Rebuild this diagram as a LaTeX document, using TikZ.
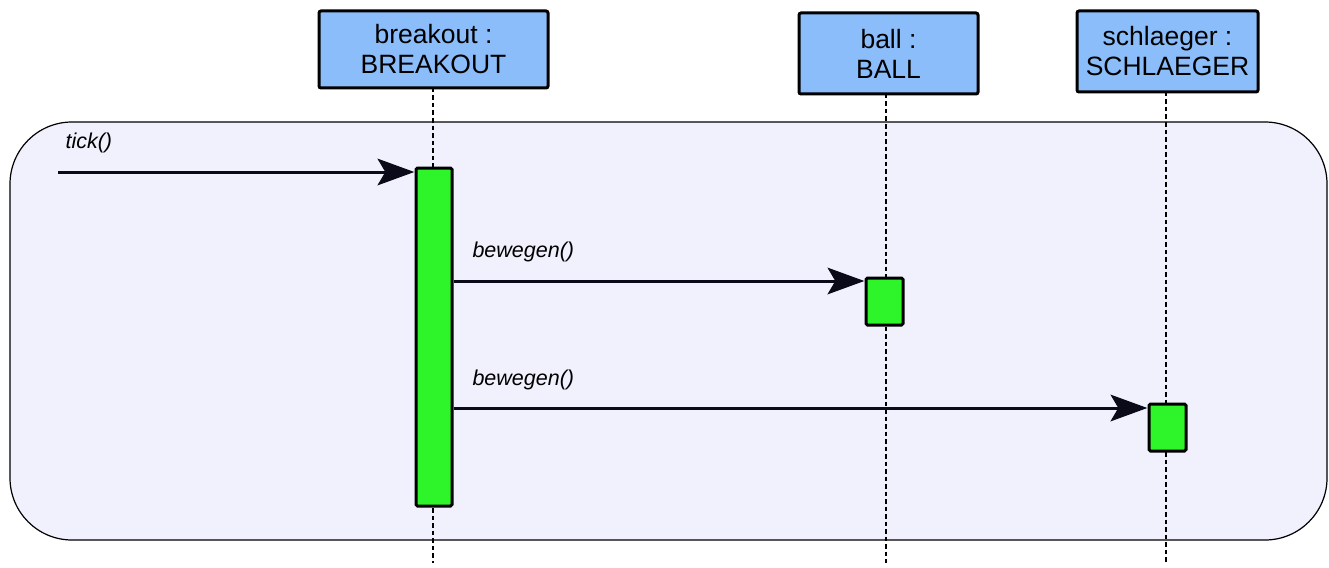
\documentclass[tikz,border=0pt]{standalone}
\usepackage{fontspec}
\setmainfont{Liberation Sans}
\usetikzlibrary{arrows.meta}
\definecolor{objblue}{HTML}{8ABDFA}
\definecolor{actgreen}{HTML}{2EF52A}
\definecolor{framebg}{HTML}{F1F1FE}
\definecolor{inkdark}{HTML}{0A0A18}
\begin{document}
\begin{tikzpicture}[x=1pt,y=-1pt,
  objbox/.style={draw=black,line width=3pt,fill=objblue,rounded corners=2pt,
    inner sep=0pt,align=center,font=\fontsize{26.5}{30}\selectfont},
  actbox/.style={draw=black,line width=3pt,fill=actgreen,rounded corners=1.5pt},
  lifeline/.style={line width=1.2pt,dash pattern=on 4.5pt off 3pt},
  msg/.style={draw=inkdark,line width=3pt,
    -{Stealth[length=37pt,width=27pt,inset=8pt,line width=0pt]}},
  msglabel/.style={font=\fontsize{21.5}{24}\selectfont\itshape,anchor=west}]
\useasboundingbox (0,0) rectangle (1329,567);
% combined fragment frame
\draw[line width=1.2pt,fill=framebg,rounded corners=62pt] (10,122) rectangle (1327,540);
% lifelines
\draw[lifeline] (433,88) -- (433,563);
\draw[lifeline] (886,94) -- (886,563);
\draw[lifeline] (1166,92) -- (1166,563);
% object heads
\node[objbox,minimum width=229pt,minimum height=77pt] (breakout) at (433.5,49.5) {breakout :\\BREAKOUT};
\node[objbox,minimum width=179pt,minimum height=81pt] (ball) at (888.5,53.5) {ball :\\BALL};
\node[objbox,minimum width=181pt,minimum height=81pt] (schlaeger) at (1167.5,51.5) {schlaeger :\\SCHLAEGER};
% activations
\draw[actbox] (416,168) rectangle (452,506);
\node[inner sep=0pt,minimum width=39pt,minimum height=338pt] (actA) at (434,337) {};
\draw[actbox] (866,278) rectangle (903,325);
\node[inner sep=0pt,minimum width=40pt,minimum height=47pt] (actB) at (884.5,301.5) {};
\draw[actbox] (1149,404) rectangle (1186,451);
\node[inner sep=0pt,minimum width=40pt,minimum height=47pt] (actC) at (1167.5,427.5) {};
% messages
\coordinate (start) at (58,172);
\draw[msg] (start) -- (actA.west |- start);
\node[msglabel] (lt) at (62,143) {tick()};
\draw[msg] (actA.east |- 0,281) -- (actB.west |- 0,281);
\node[msglabel] (lb1) at (469,252) {bewegen()};
\draw[msg] (actA.east |- 0,408) -- (actC.west |- 0,408);
\node[msglabel] (lb2) at (469,380) {bewegen()};
\end{tikzpicture}
\end{document}
